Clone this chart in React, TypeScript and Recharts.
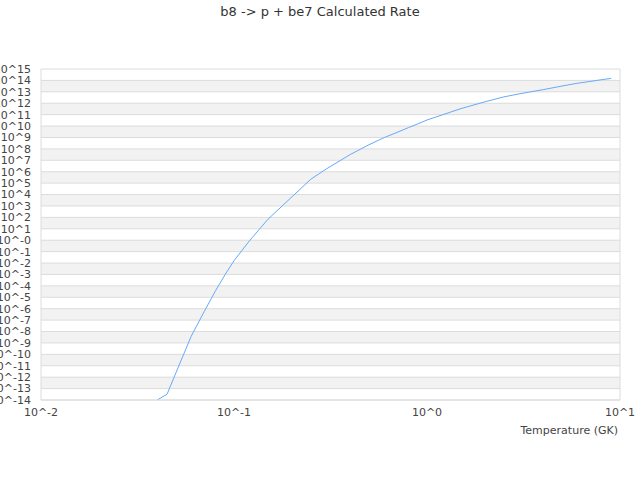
import * as React from 'react';
import { LineChart, Line, XAxis, YAxis, CartesianGrid, ReferenceLine, Label } from 'recharts';

// temperature in GK
const temperatures = [
  0.04, 0.045, 0.05, 0.06, 0.07, 0.08, 0.09, 0.1, 0.12, 0.15,
  0.2, 0.25, 0.3, 0.4, 0.5, 0.6, 0.7, 0.8, 0.9, 1,
  1.5, 2, 2.5, 3, 4, 5, 6, 7, 8, 9,
];

// calculated rate
const rates = [
  1.0e-14, 3.2e-14, 2.4e-12, 3.8e-9, 5.4e-7, 3.4e-5, 1.0e-3, 1.6e-2, 0.85, 69,
  6.5e3, 2.2e5, 1.7e6, 3.2e7, 2.3e8, 9.8e8, 2.8e9, 7.2e9, 1.6e10, 3.4e10,
  3.4e11, 1.35e12, 3.6e12, 6.6e12, 1.55e13, 3.2e13, 5.6e13, 8.1e13, 1.15e14, 1.5e14,
];

const xTicks = [0.01, 0.1, 1, 10];
const xTickLabels = ['10^-2', '10^-1', '10^0', '10^1'];

const yTicks = [
  1e15, 1e14, 1e13, 1e12, 1e11, 1e10, 1e9, 1e8, 1e7, 1e6, 1e5, 1e4, 1e3, 1e2, 1e1,
  1, 1e-1, 1e-2, 1e-3, 1e-4, 1e-5, 1e-6, 1e-7, 1e-8, 1e-9, 1e-10, 1e-11, 1e-12, 1e-13, 1e-14,
];
const yTickLabels = [
  '10^15', '10^14', '10^13', '10^12', '10^11', '10^10', '10^9', '10^8', '10^7', '10^6',
  '10^5', '10^4', '10^3', '10^2', '10^1', '10^-0', '10^-1', '10^-2', '10^-3', '10^-4',
  '10^-5', '10^-6', '10^-7', '10^-8', '10^-9', '10^-10', '10^-11', '10^-12', '10^-13', '10^-14',
];

const title = 'b8 -> p + be7 Calculated Rate';

const data = temperatures.map((t, i) => ({ t, rate: rates[i] }));

const font = 'DejaVu Sans, sans-serif';
const tickStyle = { fontSize: 11, fill: '#444', fontFamily: font };

const labelFor = (ticks: number[], labels: string[]) => (v: number) => {
  const i = ticks.findIndex((tk) => Math.abs(Math.log10(tk) - Math.log10(v)) < 1e-6);
  return i >= 0 ? labels[i] : '';
};

export default function App() {
  return (
    <div style={{ position: 'absolute', left: 0, top: 0, width: 640, height: 480, background: '#fff' }}>
      <div
        style={{
          position: 'absolute',
          top: 4,
          left: 0,
          width: 640,
          textAlign: 'center',
          fontFamily: font,
          fontSize: 13,
          color: '#333',
        }}
      >
        {title}
      </div>
      <LineChart width={640} height={480} data={data} margin={{ top: 69, right: 20, left: 0, bottom: 44 }}>
        <CartesianGrid
          vertical={false}
          stroke="#dcdcdc"
          horizontalFill={['#ffffff', '#f2f2f2']}
          fillOpacity={1}
        />
        <XAxis
          dataKey="t"
          type="number"
          scale="log"
          domain={[0.01, 10]}
          ticks={xTicks}
          tickFormatter={labelFor(xTicks, xTickLabels)}
          tick={tickStyle}
          tickLine={false}
          tickSize={0}
          tickMargin={8}
          axisLine={{ stroke: '#dcdcdc' }}
          height={36}
          allowDataOverflow
        >
          <Label
            value="Temperature (GK)"
            position="insideBottomRight"
            offset={2}
            style={{ fontSize: 11, fill: '#444', fontFamily: font }}
          />
        </XAxis>
        <YAxis
          type="number"
          scale="log"
          domain={[1e-14, 1e15]}
          ticks={yTicks}
          interval={0}
          tickFormatter={labelFor(yTicks, yTickLabels)}
          tick={tickStyle}
          tickLine={false}
          tickSize={0}
          tickMargin={10}
          axisLine={{ stroke: '#dcdcdc' }}
          width={41}
          allowDataOverflow
        />
        <ReferenceLine x={10} stroke="#dcdcdc" />
        <Line
          type="linear"
          dataKey="rate"
          stroke="#66aaf8"
          strokeWidth={1}
          dot={false}
          isAnimationActive={false}
        />
      </LineChart>
    </div>
  );
}
